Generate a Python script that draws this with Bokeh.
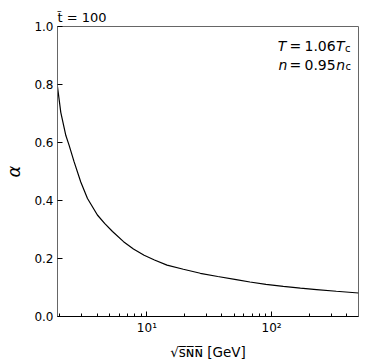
from bokeh.plotting import figure
from bokeh.models import Label, Range1d, FixedTicker, PrintfTickFormatter
from bokeh.embed import file_html
from bokeh.resources import INLINE

# data
sqrt_s = [1.92, 2.04, 2.24, 2.38, 2.61, 2.95, 3.34, 4.01, 4.6, 5.3, 6.5, 7.8, 9.5, 11.5,
          14.5, 19.6, 26.8, 37, 52, 67, 90, 124, 170, 229, 330, 497]
alpha = [0.792, 0.704, 0.624, 0.59, 0.533, 0.464, 0.407, 0.350, 0.320, 0.293, 0.258, 0.233,
         0.211, 0.195, 0.177, 0.163, 0.149, 0.138, 0.127, 0.119, 0.111, 0.104, 0.098, 0.093,
         0.087, 0.081]
x_major = [10, 100]
x_minor = [2, 3, 4, 5, 6, 7, 8, 9, 20, 30, 40, 50, 60, 70, 80, 90, 200, 300, 400, 500]
x_tick_labels = {10: "10¹", 100: "10²"}
y_major = [0.0, 0.2, 0.4, 0.6, 0.8, 1.0]

FONT = "DejaVu Sans"

p = figure(width=360, height=362, x_axis_type="log", output_backend="svg",
           toolbar_location=None, x_range=Range1d(1.92, 497), y_range=Range1d(0, 1),
           min_border_left=56, min_border_right=2, min_border_top=26, min_border_bottom=45)
p.grid.visible = False
p.outline_line_color = "#666666"
p.outline_line_width = 1
p.background_fill_color = "white"
p.border_fill_color = "white"

# title
p.title.text = "t\u0303 = 100"
p.title.align = "left"
p.title.offset = 0
p.title.standoff = 3
p.title.text_font = FONT
p.title.text_font_size = "13px"
p.title.text_font_style = "normal"
p.title.text_color = "black"

p.line(sqrt_s, alpha, line_color="black", line_width=1.2)

xa = p.xaxis[0]
xa.ticker = FixedTicker(ticks=x_major, minor_ticks=x_minor)
xa.major_label_overrides = {k: v for k, v in x_tick_labels.items()}
xa.major_tick_in = 5
xa.major_tick_out = 0
xa.minor_tick_in = 3
xa.minor_tick_out = 0
xa.axis_line_color = "black"
xa.major_label_text_font = FONT
xa.major_label_text_font_size = "12px"
xa.major_label_text_color = "black"
xa.major_label_standoff = 4
xa.axis_label = "√s\u0305\u0274\u0305\u0274\u0305 [GeV]"
xa.axis_label_text_font = FONT
xa.axis_label_text_font_size = "13.5px"
xa.axis_label_text_font_style = "normal"
xa.axis_label_text_color = "black"
xa.axis_label_standoff = 6

ya = p.yaxis[0]
ya.ticker = FixedTicker(ticks=y_major, minor_ticks=[])
ya.formatter = PrintfTickFormatter(format="%.1f")
ya.major_tick_in = 5
ya.major_tick_out = 0
ya.minor_tick_in = 0
ya.minor_tick_out = 0
ya.axis_line_color = "#666666"
ya.major_label_text_font = FONT
ya.major_label_text_font_size = "12px"
ya.major_label_text_color = "black"
ya.major_label_standoff = 4
ya.axis_label = "α"
ya.axis_label_text_font = FONT
ya.axis_label_text_font_size = "18px"
ya.axis_label_text_font_style = "italic"
ya.axis_label_text_color = "black"
ya.axis_label_standoff = 7


def lab(text, sx, sy, size="14px", style="normal"):
    p.add_layout(Label(x=sx, y=sy, x_units="screen", y_units="screen", text=text,
                       text_font=FONT, text_font_size=size, text_font_style=style,
                       text_align="left", text_baseline="alphabetic", text_color="black"))

# annotations at upper right
lab("T", 220.3, 270.3, style="italic")
lab("=", 232.0, 270.3)
lab("1.06", 247.0, 270.3)
lab("T", 278.5, 270.3, style="italic")
lab("c", 287.5, 268, size="10px")

lab("n", 221.0, 252, style="italic")
lab("=", 232.0, 252)
lab("0.95", 247.0, 252)
lab("n", 278.8, 252, style="italic")
lab("c", 288.0, 249.7, size="10px")

open("out.html", "w").write(file_html(p, INLINE))
